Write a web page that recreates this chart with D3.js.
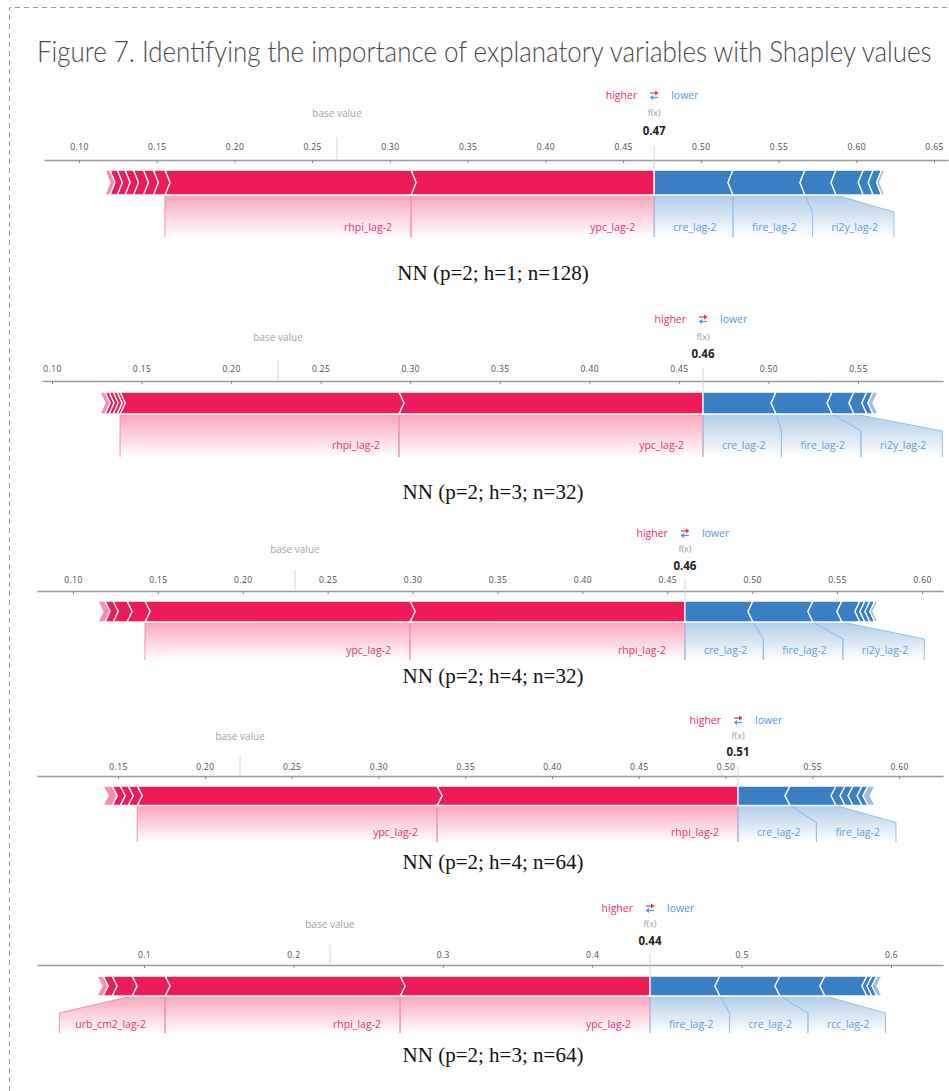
<!DOCTYPE html>
<html>
<head>
<meta charset="utf-8">
<script src="https://cdn.jsdelivr.net/npm/d3@7"></script>
<style>
  body { margin: 0; background: #fff; }
  svg { display: block; }
</style>
</head>
<body>
<svg id="chart" width="949" height="1091"></svg>
<script>
// ---- Data -----------------------------------------------------------------
const titleText = "Figure 7. Identifying the importance of explanatory variables with Shapley values";

const captions = [
  "NN (p=2; h=1; n=128)",
  "NN (p=2; h=3; n=32)",
  "NN (p=2; h=4; n=32)",
  "NN (p=2; h=4; n=64)",
  "NN (p=2; h=3; n=64)"
];

// Expected model output (base value) and prediction f(x) for each model
const baseValues = [0.266, 0.2262, 0.2307, 0.2203, 0.2245];
const outputValues = [0.470, 0.4635, 0.4604, 0.5072, 0.4387];

// Axis extent and ticks of each force plot
const axisDomains = [
  [0.0775, 0.659],
  [0.0944, 0.5975],
  [0.0788, 0.6124],
  [0.1033, 0.6253],
  [0.0284, 0.6348]
];
const tickValues = [
  [0.10, 0.15, 0.20, 0.25, 0.30, 0.35, 0.40, 0.45, 0.50, 0.55, 0.60, 0.65],
  [0.10, 0.15, 0.20, 0.25, 0.30, 0.35, 0.40, 0.45, 0.50, 0.55],
  [0.10, 0.15, 0.20, 0.25, 0.30, 0.35, 0.40, 0.45, 0.50, 0.55, 0.60],
  [0.15, 0.20, 0.25, 0.30, 0.35, 0.40, 0.45, 0.50, 0.55, 0.60],
  [0.1, 0.2, 0.3, 0.4, 0.5, 0.6]
];
const tickFormats = [".2f", ".2f", ".2f", ".2f", ".1f"];

// Features pushing the prediction higher, ordered outward from f(x)
const higherNames = [
  ["ypc_lag-2", "rhpi_lag-2"],
  ["ypc_lag-2", "rhpi_lag-2"],
  ["rhpi_lag-2", "ypc_lag-2"],
  ["rhpi_lag-2", "ypc_lag-2"],
  ["ypc_lag-2", "rhpi_lag-2", "urb_cm2_lag-2"]
];
const higherShap = [
  [0.1564, 0.1583],
  [0.1698, 0.1557],
  [0.1619, 0.1561],
  [0.1734, 0.1728],
  [0.1673, 0.1573, 0.0221]
];
// Remaining small positive contributions (unlabelled)
const higherRest = [
  [0.0075, 0.0064, 0.0064, 0.0054, 0.0050, 0.0047, 0.0032],
  [0.0017, 0.0022, 0.0023, 0.0022, 0.0028],
  [0.0106, 0.0082, 0.0048, 0.0041],
  [0.0052, 0.0046, 0.0046, 0.0052],
  [0.0134, 0.0060, 0.0041]
];

// Features pushing the prediction lower, ordered outward from f(x)
const lowerNames = [
  ["cre_lag-2", "fire_lag-2", "ri2y_lag-2"],
  ["cre_lag-2", "fire_lag-2", "ri2y_lag-2"],
  ["cre_lag-2", "fire_lag-2", "ri2y_lag-2"],
  ["cre_lag-2", "fire_lag-2"],
  ["fire_lag-2", "cre_lag-2", "rcc_lag-2"]
];
const lowerShap = [
  [-0.0507, -0.0463, -0.0200],
  [-0.0408, -0.0313, -0.0122],
  [-0.0401, -0.0353, -0.0171],
  [-0.0300, -0.0265],
  [-0.0468, -0.0402, -0.0301]
];
const lowerRest = [
  [-0.0175, -0.0064, -0.0054, -0.0021],
  [-0.0072, -0.0034, -0.0028],
  [-0.0106, -0.0029, -0.0030, -0.0029, -0.0018],
  [-0.0052, -0.0046, -0.0052, -0.0034, -0.0041],
  [-0.0281, -0.0034, -0.0033, -0.0034]
];

// ---- Layout (pixel positions of each panel) ------------------------------
const layout = [
  { axisY: 160, x0: 44, x1: 948, barTop: 170, barH: 25,   boxBottom: 237,  labelY: 227,  hlY: 95,  fxLabelY: 113, fxValY: 131, tickY: 147, captionY: 280 },
  { axisY: 381, x0: 42, x1: 943, barTop: 392, barH: 22,   boxBottom: 457,  labelY: 445,  hlY: 319, fxLabelY: 337, fxValY: 354, tickY: 369, captionY: 499 },
  { axisY: 591, x0: 37, x1: 943, barTop: 601, barH: 21,   boxBottom: 660,  labelY: 650,  hlY: 533, fxLabelY: 549, fxValY: 566, tickY: 580, captionY: 683 },
  { axisY: 776, x0: 37, x1: 943, barTop: 786, barH: 19.5, boxBottom: 842,  labelY: 832,  hlY: 720, fxLabelY: 736, fxValY: 752, tickY: 767, captionY: 869 },
  { axisY: 965, x0: 37, x1: 943, barTop: 976, barH: 20,   boxBottom: 1033, labelY: 1024, hlY: 908, fxLabelY: 924, fxValY: 941, tickY: 955, captionY: 1062 }
];

const RED = "#ed1b58";
const BLUE = "#3a7fc3";
const RED_TEXT = "#e8336c";
const BLUE_TEXT = "#5a9ed9";
const SANS = "'Open Sans', 'Noto Sans', sans-serif";

const svg = d3.select("#chart");
const defs = svg.append("defs");

function makeGradient(id, color) {
  const g = defs.append("linearGradient")
    .attr("id", id).attr("x1", 0).attr("y1", 0).attr("x2", 0).attr("y2", 1);
  g.append("stop").attr("offset", "0%").attr("stop-color", color).attr("stop-opacity", 0.4);
  g.append("stop").attr("offset", "100%").attr("stop-color", color).attr("stop-opacity", 0);
}
makeGradient("backHigher", RED);
makeGradient("backLower", BLUE);

// Dashed frame
svg.append("path")
  .attr("d", "M9.5,1091 V7.5 H949")
  .attr("fill", "none")
  .attr("stroke", "#9a9a9a")
  .attr("stroke-width", 1)
  .attr("stroke-dasharray", "5,4");

// Title, narrowed horizontally to the width of the frame's text column
const title = svg.append("text")
  .attr("x", 0).attr("y", 0)
  .style("font-family", "Lato, 'Open Sans', sans-serif")
  .style("font-weight", 300)
  .style("font-size", "29px")
  .attr("fill", "#4a4a4a")
  .text(titleText);
const titleW = title.node().getComputedTextLength();
title.attr("transform", `translate(37,62) scale(${895 / titleW},1)`);

const line = d3.line();

layout.forEach((L, p) => {
  const g = svg.append("g").attr("class", "force-plot");
  const x = d3.scaleLinear().domain(axisDomains[p]).range([L.x0, L.x1]);
  const fx = outputValues[p];
  const base = baseValues[p];
  const top = L.barTop, bot = L.barTop + L.barH, mid = (top + bot) / 2;
  const tip = 5;
  const drop = 17;

  // Axis
  const axis = d3.axisTop(x)
    .tickValues(tickValues[p])
    .tickFormat(d3.format(tickFormats[p]))
    .tickSizeInner(-3)
    .tickSizeOuter(0)
    .tickPadding(L.axisY - L.tickY - 3);
  const ag = g.append("g").attr("transform", `translate(0,${L.axisY})`).call(axis);
  ag.attr("font-size", 8.5).attr("font-family", SANS);
  ag.select(".domain").attr("stroke", "#9a9a9a").attr("stroke-width", 1.5);
  ag.selectAll(".tick line").attr("stroke", "#888");
  ag.selectAll(".tick text").attr("fill", "#4a4a4a").attr("letter-spacing", "0.4px");

  // Base value and f(x) guides
  g.append("line")
    .attr("x1", x(base)).attr("x2", x(base))
    .attr("y1", L.tickY - 10).attr("y2", L.axisY)
    .attr("stroke", "#d6d6d6").attr("stroke-width", 1);
  g.append("line")
    .attr("x1", x(fx)).attr("x2", x(fx))
    .attr("y1", L.tickY - 1).attr("y2", top)
    .attr("stroke", "#d6d6d6").attr("stroke-width", 1);

  g.append("text")
    .attr("x", x(base)).attr("y", L.fxLabelY).attr("dy", "0.35em")
    .attr("text-anchor", "middle")
    .style("font-family", SANS).style("font-size", "10px")
    .attr("fill", "#a3a3a3")
    .text("base value");

  // Header: higher / lower legend, f(x) and its value
  const fxX = x(fx);
  g.append("text")
    .attr("x", fxX - 17).attr("y", L.hlY).attr("dy", "0.35em")
    .attr("text-anchor", "end")
    .style("font-family", SANS).style("font-size", "10.5px")
    .attr("fill", "#ee2b66")
    .text("higher");
  g.append("text")
    .attr("x", fxX + 17).attr("y", L.hlY).attr("dy", "0.35em")
    .attr("text-anchor", "start")
    .style("font-family", SANS).style("font-size", "10.5px")
    .attr("fill", "#4e9be0")
    .text("lower");
  // swap-arrow icon
  const ay = L.hlY;
  g.append("path")
    .attr("d", `M${fxX - 4},${ay - 2} H${fxX + 2}`)
    .attr("stroke", "#ee2b66").attr("stroke-width", 1.2);
  g.append("path")
    .attr("d", `M${fxX + 1},${ay - 4.5} L${fxX + 4.5},${ay - 2} L${fxX + 1},${ay + 0.5} Z`)
    .attr("fill", "#ee2b66");
  g.append("path")
    .attr("d", `M${fxX + 4},${ay + 2.5} H${fxX - 2}`)
    .attr("stroke", "#4e9be0").attr("stroke-width", 1.2);
  g.append("path")
    .attr("d", `M${fxX - 1},${ay} L${fxX - 4.5},${ay + 2.5} L${fxX - 1},${ay + 5} Z`)
    .attr("fill", "#4e9be0");

  g.append("text")
    .attr("x", fxX).attr("y", L.fxLabelY).attr("dy", "0.35em")
    .attr("text-anchor", "middle")
    .style("font-family", SANS).style("font-size", "9px")
    .attr("fill", "#9a9a9a")
    .text("f(x)");
  g.append("text")
    .attr("x", fxX).attr("y", L.fxValY).attr("dy", "0.35em")
    .attr("text-anchor", "middle")
    .style("font-family", SANS).style("font-size", "11.5px").style("font-weight", 700)
    .attr("fill", "#222")
    .text(d3.format(".2f")(fx));

  // Build segments, stacked outward from f(x)
  const segs = [];
  const hi = higherShap[p].map((v, i) => ({ name: higherNames[p][i], v }))
    .concat(higherRest[p].map(v => ({ name: null, v })));
  let cur = fx;
  hi.forEach((d, i) => {
    segs.push({ side: 1, name: d.name, v0: cur - d.v, v1: cur, first: i === 0, last: i === hi.length - 1 });
    cur -= d.v;
  });
  const lo = lowerShap[p].map((v, i) => ({ name: lowerNames[p][i], v }))
    .concat(lowerRest[p].map(v => ({ name: null, v })));
  cur = fx;
  lo.forEach((d, i) => {
    segs.push({ side: -1, name: d.name, v0: cur, v1: cur - d.v, first: i === 0, last: i === lo.length - 1 });
    cur -= d.v;
  });

  const backG = g.append("g");
  const edgeG = g.append("g");
  const barG = g.append("g");
  const textG = g.append("g");

  function segPoints(s) {
    const a = x(s.v0), b = x(s.v1);
    let pts;
    if (s.side > 0) {
      pts = [[a, top], [b, top]];
      if (!s.first) pts.push([b + tip, mid]);
      pts.push([b, bot], [a, bot], [a + tip, mid]);
    } else {
      pts = [[a, top], [b, top], [b - tip, mid], [b, bot], [a, bot]];
      if (!s.first) pts.push([a - tip, mid]);
    }
    return pts;
  }

  barG.selectAll("path")
    .data(segs)
    .join("path")
    .attr("d", s => line(segPoints(s)) + "Z")
    .attr("fill", s => s.side > 0 ? RED : BLUE)
    .attr("fill-opacity", s => s.last ? 0.5 : 1)
    .attr("stroke", "#fff")
    .attr("stroke-width", 1.3)
    .attr("stroke-linejoin", "miter");

  // Labels with their backing boxes
  const PAD = 19, PAD_FAR = 16;
  const LABEL_FONT = "10.5px";
  let edge = fxX;
  segs.filter(s => s.name && s.side > 0).forEach(s => {
    const segL = x(s.v0), segR = x(s.v1);
    const boxR = Math.min(segR, edge);
    const t = textG.append("text")
      .attr("x", boxR - PAD).attr("y", L.labelY).attr("dy", "0.35em")
      .attr("text-anchor", "end")
      .style("font-family", SANS).style("font-size", LABEL_FONT)
      .attr("fill", RED_TEXT)
      .text(s.name);
    const w = t.node().getComputedTextLength();
    const boxL = Math.min(segL, boxR - PAD - w - PAD_FAR);
    s.box = [boxL, boxR];
    edge = boxL;
  });
  edge = fxX;
  segs.filter(s => s.name && s.side < 0).forEach(s => {
    const segL = x(s.v0), segR = x(s.v1);
    const boxL = Math.max(segL, edge);
    const t = textG.append("text")
      .attr("x", boxL + PAD).attr("y", L.labelY).attr("dy", "0.35em")
      .attr("text-anchor", "start")
      .style("font-family", SANS).style("font-size", LABEL_FONT)
      .attr("fill", BLUE_TEXT)
      .text(s.name);
    const w = t.node().getComputedTextLength();
    const boxR = Math.max(segR, boxL + PAD + w + PAD_FAR);
    s.box = [boxL, boxR];
    edge = boxR;
  });

  const labelled = segs.filter(s => s.box);
  backG.selectAll("path")
    .data(labelled)
    .join("path")
    .attr("d", s => {
      const segL = x(s.v0), segR = x(s.v1);
      const [bl, br] = s.box;
      return line([[segL, bot], [segR, bot], [br, bot + drop], [br, L.boxBottom],
                   [bl, L.boxBottom], [bl, bot + drop]]) + "Z";
    })
    .attr("fill", s => s.side > 0 ? "url(#backHigher)" : "url(#backLower)");

  labelled.forEach(s => {
    const segL = x(s.v0), segR = x(s.v1);
    const [bl, br] = s.box;
    const col = s.side > 0 ? "#f08fb0" : "#92c0e8";
    edgeG.append("path")
      .attr("d", line([[segL, bot], [bl, bot + drop], [bl, L.boxBottom]]))
      .attr("fill", "none").attr("stroke", col).attr("stroke-width", 1);
    edgeG.append("path")
      .attr("d", line([[segR, bot], [br, bot + drop], [br, L.boxBottom]]))
      .attr("fill", "none").attr("stroke", col).attr("stroke-width", 1);
  });

  // Model caption
  g.append("text")
    .attr("x", 493).attr("y", L.captionY)
    .attr("text-anchor", "middle")
    .style("font-family", "'Liberation Serif', 'Times New Roman', serif")
    .style("font-size", "21px")
    .attr("fill", "#111")
    .text(captions[p]);
});
</script>
</body>
</html>
